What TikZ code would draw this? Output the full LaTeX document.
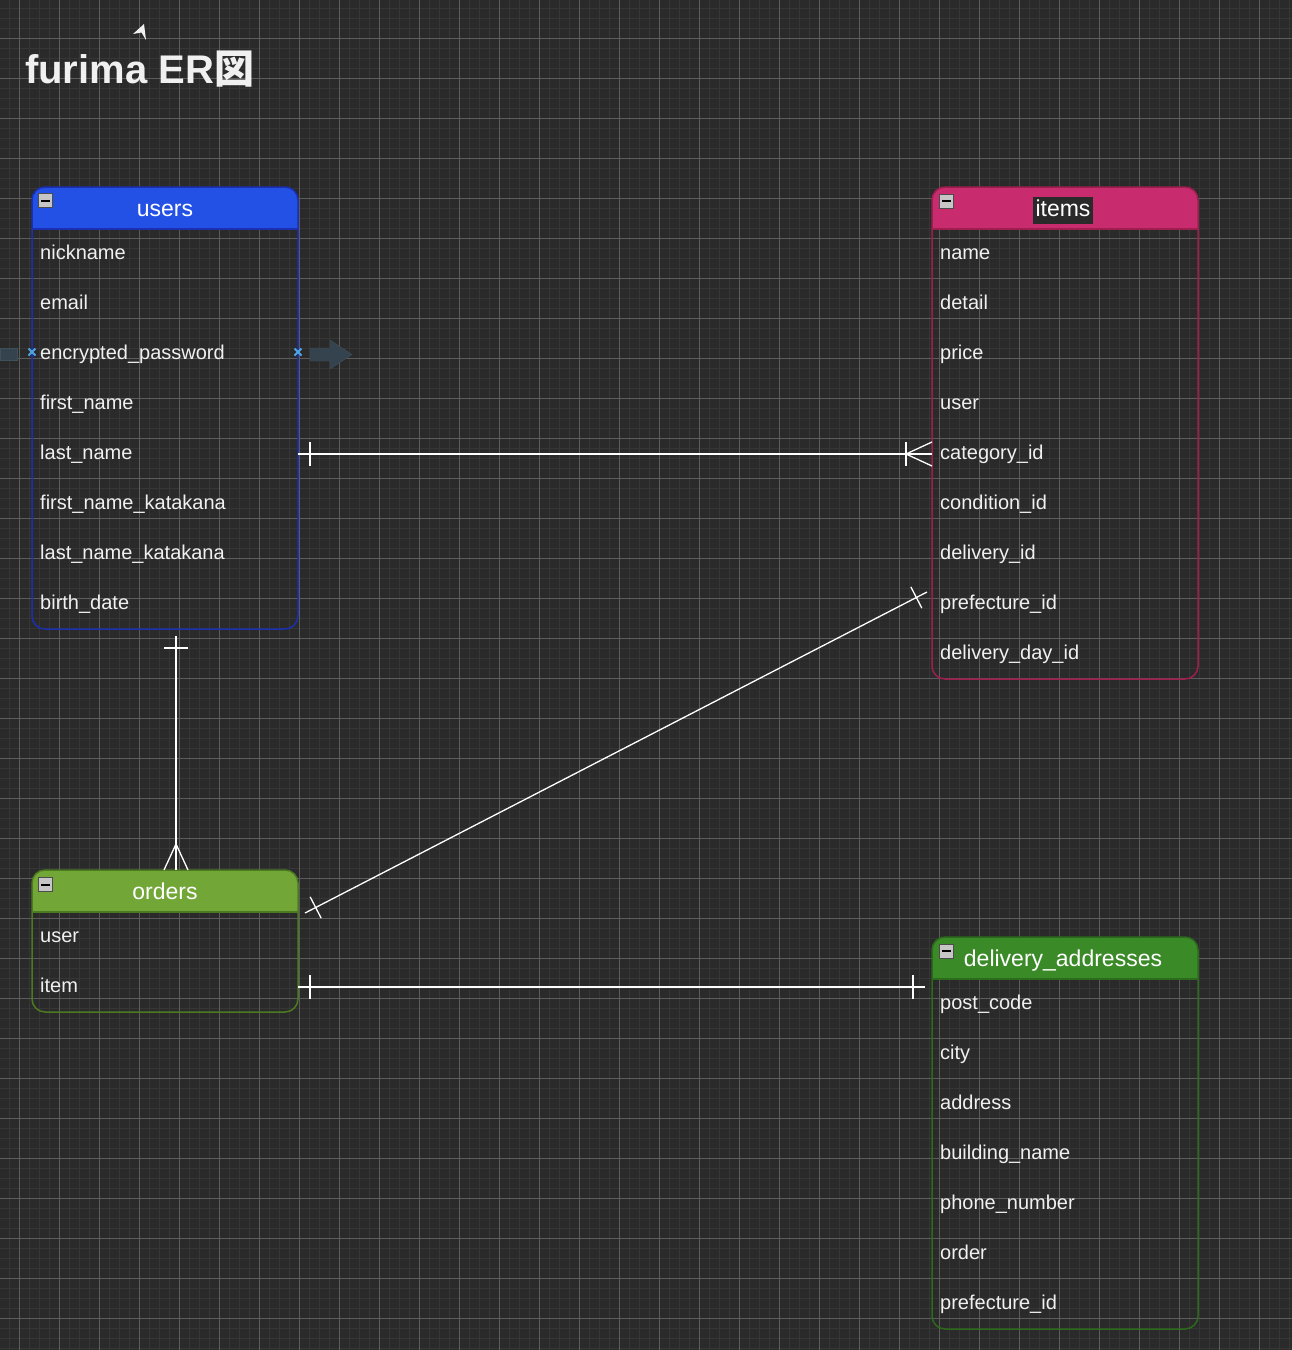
\documentclass[tikz,border=0pt]{standalone}
\usepackage{fontspec}
\setmainfont{Liberation Sans}
\newfontfamily\cjk{Noto Sans CJK JP}
\usetikzlibrary{calc}
\definecolor{bg}{HTML}{2A2A2A}
\definecolor{minorgrid}{HTML}{363636}
\definecolor{majorgrid}{HTML}{5C5C5C}
\definecolor{fg}{HTML}{F0F0F0}
\definecolor{ublue}{HTML}{2351E6}
\definecolor{uedge}{HTML}{1B2FB0}
\definecolor{ipink}{HTML}{C82B6E}
\definecolor{iedge}{HTML}{9E1E4E}
\definecolor{ogreen}{HTML}{72A637}
\definecolor{oedge}{HTML}{4C7A20}
\definecolor{dgreen}{HTML}{3B8A28}
\definecolor{dedge}{HTML}{2C6A1C}
\definecolor{hintblue}{HTML}{4EA5E3}
\definecolor{ghost}{HTML}{34434D}
\definecolor{ghostedge}{HTML}{3F505B}

\begin{document}
\begin{tikzpicture}[x=1pt,y=-1pt,
  tbl/.style={anchor=north west,inner sep=0pt,outer sep=0pt,minimum width=266pt},
  edge/.style={line width=1.5pt,rounded corners=13pt},
  head/.style={text=white,font=\fontsize{23pt}{28pt}\selectfont,inner sep=0pt,text height=17pt,text depth=5pt},
  row/.style={anchor=west,text=fg,font=\fontsize{20pt}{24pt}\selectfont,inner sep=0pt,text height=16pt,text depth=2pt},
  fold/.style={draw=gray!60!black,fill=gray!45,minimum size=14pt,inner sep=0pt,
    path picture={\draw[black,line width=2pt] ([xshift=-4.5pt]path picture bounding box.center) -- ([xshift=4.5pt]path picture bounding box.center);}},
  rel/.style={draw=white,line width=1.3pt},
  hint/.style={draw=hintblue,line width=2pt}]
\useasboundingbox (0,0) rectangle (1292,1350);
\fill[bg] (0,0) rectangle (1292,1350);
\begin{scope}
\clip (0,0) rectangle (1292,1350);
\draw[minorgrid,line width=0.8pt,step=10pt,shift={(19.5,-2)}] (-40,-40) grid (1340,1400);
\draw[majorgrid,line width=1pt,step=40pt,shift={(19.5,-2)}] (-40,-40) grid (1340,1400);
\end{scope}

\node[anchor=base west,inner sep=0pt,text=fg,font=\fontsize{40pt}{48pt}\selectfont\bfseries] (title) at (25,83) {furima ER{\cjk 図}};
\fill[fg] (133,34) -- (144,24) -- (146,40) -- (141.5,32.5) -- cycle;

\node[tbl,minimum height=442pt] (users) at (32,187) {};
\fill[ublue,rounded corners=13pt] (users.north west) rectangle ([yshift=-42pt]users.north east);
\fill[ublue] ([yshift=-20pt]users.north west) rectangle ([yshift=-42pt]users.north east);
\draw[uedge,line width=1.5pt] ([yshift=-42pt]users.north west) -- ([yshift=-42pt]users.north east);
\draw[uedge,edge] (users.north west) rectangle (users.south east);
\node[fold] (users-fold) at (45.5,200.5) {};
\node[head] (users-title) at (165,210) {users};
\node[row] (u-nick) at (40,252) {nickname};
\node[row] (u-email) at (40,302) {email};
\node[row] (u-pw) at (40,352) {encrypted\_password};
\node[row] (u-first) at (40,402) {first\_name};
\node[row] (u-last) at (40,452) {last\_name};
\node[row] (u-firstkana) at (40,502) {first\_name\_katakana};
\node[row] (u-lastkana) at (40,552) {last\_name\_katakana};
\node[row] (u-birth) at (40,602) {birth\_date};

\node[tbl,minimum height=492pt] (items) at (932,187) {};
\fill[ipink,rounded corners=13pt] (items.north west) rectangle ([yshift=-42pt]items.north east);
\fill[ipink] ([yshift=-20pt]items.north west) rectangle ([yshift=-42pt]items.north east);
\draw[iedge,line width=1.5pt] ([yshift=-42pt]items.north west) -- ([yshift=-42pt]items.north east);
\draw[iedge,edge] (items.north west) rectangle (items.south east);
\node[fold] (items-fold) at (946,201) {};
\node[head,fill=bg,inner sep=2.5pt] (items-title) at (1063,210) {items};
\node[row] (i-name) at (940,252) {name};
\node[row] (i-detail) at (940,302) {detail};
\node[row] (i-price) at (940,352) {price};
\node[row] (i-user) at (940,402) {user};
\node[row] (i-category) at (940,452) {category\_id};
\node[row] (i-condition) at (940,502) {condition\_id};
\node[row] (i-delivery) at (940,552) {delivery\_id};
\node[row] (i-prefecture) at (940,602) {prefecture\_id};
\node[row] (i-day) at (940,652) {delivery\_day\_id};

\node[tbl,minimum height=142pt] (orders) at (32,870) {};
\fill[ogreen,rounded corners=13pt] (orders.north west) rectangle ([yshift=-42pt]orders.north east);
\fill[ogreen] ([yshift=-20pt]orders.north west) rectangle ([yshift=-42pt]orders.north east);
\draw[oedge,line width=1.5pt] ([yshift=-42pt]orders.north west) -- ([yshift=-42pt]orders.north east);
\draw[oedge,edge] (orders.north west) rectangle (orders.south east);
\node[fold] (orders-fold) at (45.5,884.5) {};
\node[head] (orders-title) at (165,893) {orders};
\node[row] (o-user) at (40,935) {user};
\node[row] (o-item) at (40,985) {item};

\node[tbl,minimum height=392pt] (delivery) at (932,937) {};
\fill[dgreen,rounded corners=13pt] (delivery.north west) rectangle ([yshift=-42pt]delivery.north east);
\fill[dgreen] ([yshift=-20pt]delivery.north west) rectangle ([yshift=-42pt]delivery.north east);
\draw[dedge,line width=1.5pt] ([yshift=-42pt]delivery.north west) -- ([yshift=-42pt]delivery.north east);
\draw[dedge,edge] (delivery.north west) rectangle (delivery.south east);
\node[fold] (delivery-fold) at (946,951) {};
\node[head] (delivery-title) at (1063,960) {delivery\_addresses};
\node[row] (d-post) at (940,1002) {post\_code};
\node[row] (d-city) at (940,1052) {city};
\node[row] (d-address) at (940,1102) {address};
\node[row] (d-building) at (940,1152) {building\_name};
\node[row] (d-phone) at (940,1202) {phone\_number};
\node[row] (d-order) at (940,1252) {order};
\node[row] (d-prefecture) at (940,1302) {prefecture\_id};

\fill[ghost,draw=ghostedge] (0,348) rectangle (17,360);
\fill[ghost,draw=ghostedge] (310,348) -- (330,348) -- (330,340) -- (352,354.5) -- (330,369) -- (330,361) -- (310,361) -- cycle;
\draw[hint] ([shift={(-3.5pt,-3.5pt)}]users.west |- u-pw) -- ([shift={(3.5pt,3.5pt)}]users.west |- u-pw);
\draw[hint] ([shift={(-3.5pt,3.5pt)}]users.west |- u-pw) -- ([shift={(3.5pt,-3.5pt)}]users.west |- u-pw);
\draw[hint] ([shift={(-3.5pt,-3.5pt)}]users.east |- u-pw) -- ([shift={(3.5pt,3.5pt)}]users.east |- u-pw);
\draw[hint] ([shift={(-3.5pt,3.5pt)}]users.east |- u-pw) -- ([shift={(3.5pt,-3.5pt)}]users.east |- u-pw);

\coordinate (r1a) at ([yshift=-2pt]users.east |- u-last);
\coordinate (r1b) at (items.west |- r1a);
\draw[rel] (r1a) -- (r1b);
\draw[rel] ([shift={(12pt,12pt)}]r1a) -- ([shift={(12pt,-12pt)}]r1a);
\draw[rel] ([shift={(-26pt,12pt)}]r1b) -- ([shift={(-26pt,-12pt)}]r1b);
\draw[rel] ([yshift=12pt]r1b) -- ([xshift=-26pt]r1b) -- ([yshift=-12pt]r1b);

\coordinate (r2a) at ([shift={(11pt,-7pt)}]users.south);
\coordinate (r2b) at (r2a |- orders.north);
\draw[rel] (r2a) -- (r2b);
\draw[rel] ([shift={(-12pt,-12pt)}]r2a) -- ([shift={(12pt,-12pt)}]r2a);
\draw[rel] ([xshift=-12pt]r2b) -- ([yshift=26pt]r2b) -- ([xshift=12pt]r2b);

\coordinate (r3a) at ([shift={(7pt,-43pt)}]orders.north east);
\coordinate (r3b) at ([shift={(-5pt,10pt)}]items.west |- i-prefecture);
\draw[rel] (r3a) -- (r3b);
\draw[rel] ($(r3a)!12pt!(r3b)!12pt!90:(r3b)$) -- ($(r3a)!12pt!(r3b)!12pt!-90:(r3b)$);
\draw[rel] ($(r3b)!12pt!(r3a)!12pt!90:(r3a)$) -- ($(r3b)!12pt!(r3a)!12pt!-90:(r3a)$);

\coordinate (r4a) at ([yshift=-2pt]orders.east |- o-item);
\coordinate (r4b) at ([xshift=-7pt]delivery.west |- r4a);
\draw[rel] (r4a) -- (r4b);
\draw[rel] ([shift={(12pt,12pt)}]r4a) -- ([shift={(12pt,-12pt)}]r4a);
\draw[rel] ([shift={(-12pt,12pt)}]r4b) -- ([shift={(-12pt,-12pt)}]r4b);
\end{tikzpicture}
\end{document}
